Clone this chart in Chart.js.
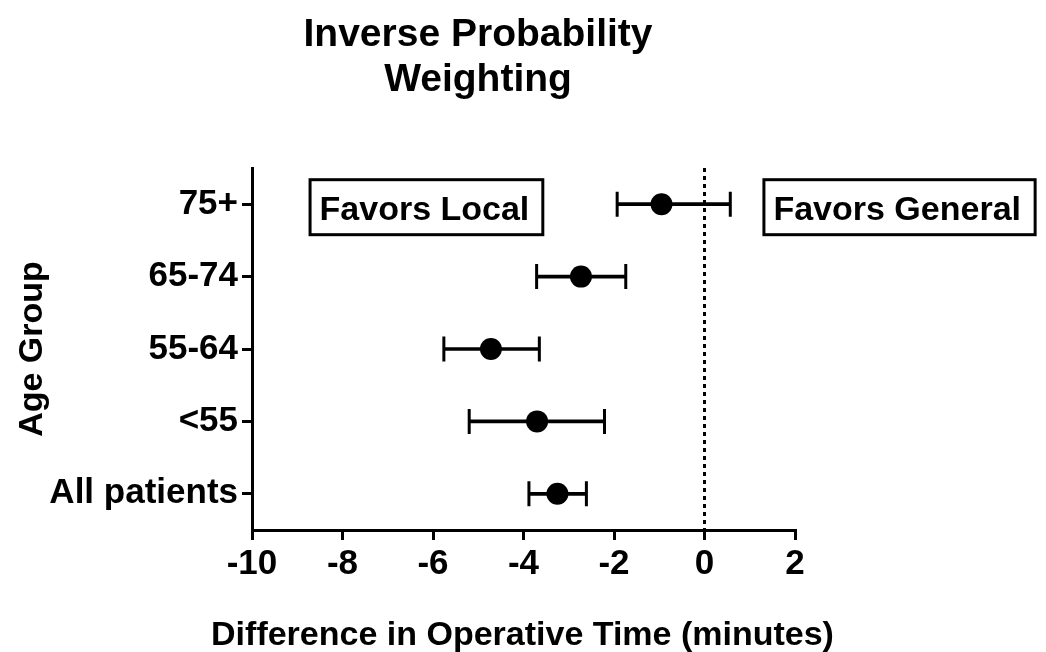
<!DOCTYPE html>
<html><head><meta charset="utf-8">
<script src="https://cdn.jsdelivr.net/npm/chart.js@4/dist/chart.umd.min.js"></script>
<style>html,body{margin:0;padding:0;background:#fff}</style>
</head><body>
<canvas id="c" width="1046" height="652"></canvas>
<script>
const categories = ['75+', '65-74', '55-64', '<55', 'All patients'];
const estimates = [-0.95, -2.73, -4.72, -3.70, -3.25];
const lowerCI = [-1.93, -3.71, -5.76, -5.20, -3.88];
const upperCI = [0.57, -1.74, -3.65, -2.21, -2.61];
const xTicks = [-10, -8, -6, -4, -2, 0, 2];
const titleLines = ['Inverse Probability', 'Weighting'];
const xTitle = 'Difference in Operative Time (minutes)';
const yTitle = 'Age Group';
const noteLabels = ['Favors Local', 'Favors General'];

const FAM = '"Liberation Sans", Arial, Helvetica, sans-serif';
const tickFont = {family: FAM, size: 35, weight: 'bold'};
const titleFont = {family: FAM, size: 34, weight: 'bold'};

const overlay = {
  id: 'overlay',
  afterDraw(chart) {
    const ctx = chart.ctx;
    const xs = chart.scales.x, ys = chart.scales.y;
    const area = chart.chartArea;
    ctx.save();
    ctx.fillStyle = '#000';
    ctx.textAlign = 'center';
    ctx.textBaseline = 'alphabetic';
    ctx.font = 'bold 39px ' + FAM;
    ctx.fillText(titleLines[0], 478, 46);
    ctx.fillText(titleLines[1], 478, 91);
    // x axis title
    ctx.font = 'bold 34px ' + FAM;
    ctx.fillText(xTitle, (area.left + area.right) / 2 - 1, 645);
    // annotation boxes
    const boxes = [
      {label: noteLabels[0], v0: -8.75, v1: -3.54},
      {label: noteLabels[1], v0: 1.28, v1: 7.34}
    ];
    const cy = ys.getPixelForValue(0);
    ctx.lineWidth = 3;
    ctx.strokeStyle = '#000';
    ctx.textAlign = 'left';
    boxes.forEach(b => {
      const x0 = xs.getPixelForValue(b.v0), x1 = xs.getPixelForValue(b.v1);
      ctx.fillStyle = '#fff';
      ctx.fillRect(x0, cy - 26, x1 - x0, 58);
      ctx.strokeRect(x0 + 1.5, cy - 24.5, x1 - x0 - 3, 55);
      ctx.fillStyle = '#000';
      ctx.fillText(b.label, x0 + 11, cy + 16);
    });
    ctx.restore();
  }
};

const capStyle = {
  type: 'line', indexAxis: 'y', showLine: false, pointStyle: 'line', rotation: 90,
  pointRadius: 12.5, pointHoverRadius: 12.5, borderColor: '#000', backgroundColor: '#000',
  pointBorderWidth: 3, pointHoverBorderWidth: 3, order: 2
};

new Chart(document.getElementById('c'), {
  type: 'bar',
  data: {
    labels: categories,
    datasets: [
      {type: 'bar', indexAxis: 'y', data: lowerCI.map((l, i) => [l, upperCI[i]]),
       backgroundColor: '#000', borderWidth: 0, barThickness: 3, order: 3},
      Object.assign({data: lowerCI}, capStyle),
      Object.assign({data: upperCI}, capStyle),
      {type: 'line', indexAxis: 'y', data: estimates, showLine: false, pointStyle: 'circle',
       pointRadius: 11, pointHoverRadius: 11, pointBorderWidth: 0,
       backgroundColor: '#000', borderColor: '#000', order: 1}
    ]
  },
  options: {
    indexAxis: 'y',
    responsive: false,
    animation: false,
    events: [],
    layout: {padding: {left: 8, right: 251, top: 168, bottom: 0}},
    plugins: {legend: {display: false}, tooltip: {enabled: false}, title: {display: false}},
    scales: {
      x: {
        type: 'linear', min: -10, max: 2,
        afterBuildTicks: s => { s.ticks = xTicks.map(v => ({value: v})); },
        afterFit: s => { s.height = 122; },
        ticks: {color: '#000', font: tickFont, padding: 3, maxRotation: 0, autoSkip: false},
        grid: {
          color: c => (c.tick && c.tick.value === 0) ? '#000' : 'rgba(0,0,0,0)',
          lineWidth: 3, tickColor: '#000', tickWidth: 3, tickLength: 10
        },
        border: {display: true, color: '#000', width: 3, dash: [4, 4]},
        title: {display: false, text: xTitle}
      },
      y: {
        type: 'category', offset: true,
        afterFit: s => { s.width = 244; },
        ticks: {color: '#000', font: tickFont, padding: 4, autoSkip: false},
        grid: {offset: false, color: 'rgba(0,0,0,0)', tickColor: '#000', tickWidth: 3, tickLength: 10},
        border: {display: true, color: '#000', width: 3},
        title: {display: true, text: yTitle, color: '#000', font: titleFont, padding: {top: 4, bottom: 0}}
      }
    }
  },
  plugins: [overlay]
});
</script>
</body></html>
